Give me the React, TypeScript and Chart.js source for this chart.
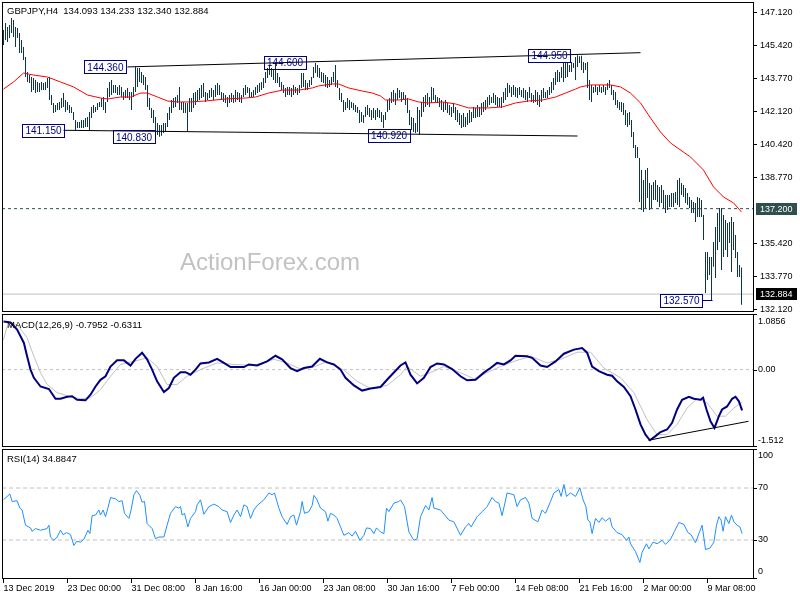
import React, { useEffect, useRef } from "react";
import { Chart, registerables } from "chart.js";

Chart.register(...registerables);

const FONT = '"Liberation Sans", Arial, sans-serif';
const NAVY = "#000080";
const BAR_COLOR = "#0d3550";

// ---------------- data ----------------
const symbol = "GBPJPY,H4";
const lastOHLC = [134.093, 134.233, 132.34, 132.884];
const macdLast = -0.7952;
const signalLast = -0.6311;
const rsiLast = 34.8847;

const timeLabels = ["13 Dec 2019", "23 Dec 00:00", "31 Dec 08:00", "8 Jan 16:00", "16 Jan 00:00", "23 Jan 08:00", "30 Jan 16:00", "7 Feb 00:00", "14 Feb 08:00", "21 Feb 16:00", "2 Mar 00:00", "9 Mar 08:00"];
const timeLabelBars = [0, 32, 64, 96, 128, 160, 192, 224, 256, 288, 320, 352];

const priceTicks = [147.12, 145.42, 143.77, 142.12, 140.42, 138.77, 135.42, 133.77, 132.12];
const macdTicks = [1.0856, 0, -1.512];
const rsiTicks = [100, 70, 30, 0];
const rsiLevels = [70, 30];

const supportLevel = 137.2;

const barHighs = [
  146.22, 146.58, 146.38, 146.48, 146.83, 146.73, 146.38, 146.33, 146.07, 145.72,
  145.37, 144.86, 144.10, 143.95, 143.85, 143.80, 143.70, 143.60, 143.55, 143.60,
  143.55, 143.60, 143.80, 143.85, 142.94, 142.54, 142.44, 142.54, 142.59, 142.79,
  143.04, 142.69, 142.59, 142.44, 142.34, 142.08, 141.68, 141.58, 141.58, 141.68,
  141.68, 141.78, 141.83, 142.08, 142.34, 142.44, 142.34, 142.54, 142.59, 142.79,
  142.84, 142.59, 143.30, 143.60, 143.70, 143.45, 143.45, 143.35, 143.45, 143.35,
  143.09, 143.19, 143.30, 143.09, 143.09, 143.35, 144.36, 144.31, 144.31, 144.10,
  143.95, 143.85, 143.45, 142.79, 142.29, 142.18, 141.83, 141.53, 141.43, 141.43,
  141.53, 141.53, 142.03, 142.34, 142.69, 142.79, 142.84, 142.94, 143.35, 142.59,
  142.59, 142.54, 142.54, 142.79, 142.79, 143.04, 143.09, 143.19, 143.30, 143.45,
  143.55, 143.09, 143.04, 143.19, 143.30, 143.19, 143.45, 143.55, 143.45, 143.09,
  143.04, 142.94, 142.84, 142.94, 143.04, 142.94, 143.19, 143.09, 143.04, 142.94,
  143.30, 143.45, 143.35, 143.30, 143.09, 143.19, 143.35, 143.45, 143.55, 143.60,
  143.80, 144.10, 144.31, 144.46, 144.31, 144.20, 144.60, 144.05, 143.85, 143.60,
  143.45, 143.30, 143.35, 143.35, 143.30, 143.45, 143.35, 143.30, 143.45, 144.05,
  144.05, 143.70, 143.55, 143.70, 143.85, 144.36, 144.56, 144.46, 144.31, 144.10,
  144.05, 143.95, 143.85, 143.70, 143.85, 144.10, 144.46, 143.70, 143.30, 143.04,
  142.69, 142.59, 142.79, 142.69, 142.59, 142.54, 142.44, 142.34, 142.18, 142.08,
  141.93, 142.34, 142.44, 142.29, 142.18, 142.29, 142.18, 142.29, 142.18, 142.08,
  141.93, 142.08, 142.69, 142.79, 143.09, 143.19, 143.04, 143.30, 143.19, 143.09,
  143.09, 142.94, 142.79, 142.18, 141.83, 141.78, 141.53, 142.34, 142.18, 142.59,
  142.84, 142.94, 143.04, 142.84, 143.35, 143.30, 142.94, 142.84, 142.79, 142.69,
  142.59, 142.69, 142.54, 142.44, 142.34, 142.54, 142.34, 142.18, 142.03, 141.93,
  142.03, 141.83, 142.03, 142.18, 142.08, 142.34, 142.29, 142.44, 142.34, 142.54,
  142.59, 142.69, 142.84, 142.94, 142.84, 143.04, 142.94, 142.84, 142.79, 142.84,
  143.09, 143.30, 143.55, 143.45, 143.35, 143.45, 143.35, 143.30, 143.35, 143.19,
  143.30, 143.19, 143.09, 143.35, 143.04, 142.94, 143.19, 143.09, 142.94, 143.19,
  143.30, 143.09, 143.19, 143.35, 143.60, 143.80, 144.10, 144.20, 144.10, 144.36,
  144.61, 144.61, 144.56, 144.46, 144.61, 144.56, 144.86, 144.95, 144.90, 144.92,
  144.61, 144.56, 144.61, 143.70, 143.45, 143.35, 143.45, 143.35, 143.45, 143.35,
  143.45, 143.35, 143.55, 143.70, 143.45, 143.19, 143.09, 142.69, 142.59, 142.59,
  142.54, 142.18, 142.03, 142.08, 141.68, 141.07, 140.42, 140.32, 139.76, 139.15,
  138.65, 139.15, 139.26, 138.50, 138.40, 138.55, 138.65, 138.40, 138.30, 138.40,
  138.14, 137.89, 137.89, 137.89, 137.99, 137.99, 138.04, 138.65, 138.75, 138.50,
  138.40, 138.25, 137.99, 137.79, 137.64, 137.54, 137.49, 137.79, 137.74, 137.64,
  136.88, 135.01, 135.01, 134.76, 134.76, 135.52, 136.27, 136.98, 137.23, 137.23,
  136.88, 136.63, 136.48, 136.53, 136.78, 136.53, 135.87, 135.01, 134.36, 134.233,
];

const barLows = [
  145.47, 145.72, 145.62, 145.82, 146.07, 145.87, 145.37, 145.82, 145.06, 145.06,
  144.71, 143.85, 143.60, 143.55, 143.09, 143.19, 143.04, 143.09, 143.09, 143.19,
  143.19, 143.19, 143.30, 142.69, 142.44, 142.03, 142.08, 142.18, 142.18, 142.29,
  142.34, 142.08, 142.18, 142.03, 142.03, 141.68, 141.17, 141.28, 141.28, 141.28,
  141.28, 141.33, 141.33, 141.15, 141.78, 142.03, 142.08, 142.18, 142.34, 142.34,
  142.18, 142.03, 142.59, 142.84, 142.94, 143.04, 143.04, 142.94, 142.94, 142.84,
  142.69, 142.79, 142.79, 142.69, 142.18, 142.84, 143.09, 143.35, 143.60, 143.55,
  143.45, 143.19, 142.34, 142.18, 141.78, 141.53, 141.17, 140.92, 140.83, 140.88,
  141.02, 141.07, 141.33, 141.68, 142.03, 142.29, 142.34, 142.54, 142.18, 142.18,
  142.03, 142.03, 141.07, 142.08, 142.08, 142.29, 142.44, 142.59, 142.69, 142.79,
  142.84, 142.59, 142.69, 142.79, 142.84, 142.69, 142.84, 142.94, 142.94, 142.69,
  142.59, 142.54, 142.34, 142.54, 142.59, 142.54, 142.59, 142.69, 142.59, 142.54,
  142.84, 142.94, 143.04, 142.84, 142.79, 142.84, 142.94, 143.04, 143.09, 143.19,
  143.30, 143.55, 143.80, 143.95, 143.85, 143.70, 143.55, 143.55, 143.35, 143.19,
  143.04, 142.84, 142.94, 142.94, 142.84, 142.94, 143.04, 142.94, 143.04, 143.30,
  143.35, 143.19, 143.19, 143.35, 143.45, 143.80, 144.05, 143.85, 143.80, 143.60,
  143.55, 143.35, 143.30, 143.35, 143.45, 143.60, 143.35, 143.30, 142.69, 142.59,
  142.08, 142.18, 142.29, 142.18, 142.29, 142.18, 142.08, 142.03, 141.53, 141.58,
  141.53, 141.83, 141.93, 141.83, 141.68, 141.78, 141.68, 141.83, 141.78, 141.58,
  141.28, 141.68, 142.08, 142.18, 142.54, 142.59, 142.44, 142.69, 142.79, 142.59,
  142.69, 142.44, 142.03, 141.43, 141.17, 141.07, 141.02, 141.07, 140.92, 141.83,
  142.08, 142.34, 142.44, 142.34, 142.54, 142.69, 142.59, 142.54, 142.34, 142.18,
  142.08, 142.18, 142.03, 141.93, 141.83, 142.03, 141.68, 141.58, 141.43, 141.28,
  141.33, 141.33, 141.43, 141.53, 141.58, 141.78, 141.78, 141.83, 141.83, 141.93,
  142.08, 142.18, 142.34, 142.44, 142.54, 142.54, 142.44, 142.34, 142.34, 142.29,
  142.54, 142.69, 142.84, 143.04, 142.84, 142.94, 142.84, 142.79, 142.94, 142.84,
  142.79, 142.69, 142.59, 142.79, 142.59, 142.54, 142.59, 142.44, 142.34, 142.59,
  142.79, 142.79, 142.79, 142.94, 143.04, 143.19, 143.45, 143.60, 143.60, 143.80,
  143.60, 143.80, 143.85, 144.10, 144.10, 144.31, 143.70, 144.36, 144.56, 144.20,
  144.05, 144.20, 143.30, 142.69, 142.59, 143.04, 143.09, 142.94, 143.09, 143.04,
  143.09, 142.94, 143.19, 143.30, 142.94, 142.69, 142.44, 142.29, 142.18, 142.08,
  141.93, 141.43, 141.33, 141.43, 140.82, 140.27, 139.76, 139.76, 137.54, 137.13,
  137.03, 137.23, 137.74, 137.13, 137.23, 137.64, 137.64, 137.54, 137.29, 137.49,
  137.23, 136.98, 137.13, 137.29, 137.29, 137.29, 137.49, 137.39, 137.29, 137.89,
  137.79, 137.49, 137.39, 137.23, 136.98, 136.98, 136.53, 136.78, 136.78, 136.78,
  135.62, 132.94, 133.60, 133.85, 132.57, 134.26, 133.70, 135.11, 135.52, 134.10,
  134.76, 135.11, 134.76, 135.47, 134.00, 135.11, 134.71, 133.75, 133.75, 132.34,
];

// moving average [bar, value]
const maTrace = [
  [0, 143.24], [5, 143.6], [10, 144.05], [15, 143.95], [22, 143.85], [28.5, 143.6], [35, 143.35], [42, 142.94],
  [48.5, 142.79], [52, 142.74], [58.5, 142.84], [63.5, 142.84], [68.5, 143.04], [72, 143.04], [77, 142.84],
  [82, 142.64], [87, 142.59], [93.5, 142.59], [101, 142.64], [111, 142.74], [121, 142.79], [126, 142.84],
  [132.5, 143.04], [139.5, 143.19], [147.5, 143.19], [154.5, 143.3], [157.5, 143.4], [164.5, 143.5], [167.5, 143.5],
  [172.5, 143.3], [179.5, 143.14], [184.5, 143.04], [188.5, 142.89], [191, 142.69], [197.5, 142.69], [202.5, 142.74],
  [207.5, 142.59], [212.5, 142.54], [219.5, 142.59], [226, 142.49], [232.5, 142.29], [237.5, 142.29], [242.5, 142.29],
  [249.5, 142.34], [256, 142.54], [262.5, 142.64], [269.5, 142.69], [276, 142.84], [281, 143.04], [286, 143.24],
  [288.5, 143.35], [293.5, 143.45], [303.5, 143.45], [308.5, 143.35], [313.5, 143.04], [318.5, 142.54], [323.5, 141.78],
  [328.5, 141.07], [333.5, 140.52], [337, 140.27], [343.5, 139.81], [350, 139.15], [355, 138.3], [360, 137.79],
  [365, 137.49], [369, 137.03],
];

const upperTrendBars = [62, 318.5];
const upperTrendValues = [144.36, 145.08];
const lowerTrendBars = [30, 287];
const lowerTrendValues = [141.16, 140.87];

const markValues = [144.36, 141.15, 140.83, 144.6, 140.92, 144.95, 132.57];
const markBars = [50.7, 19.75, 65, 140.5, 192.5, 272.75, 338.75];
const lowMarkBar = 354;

const macdTrace = [
  [0, 0.94], [3.5, 0.92], [6.8, 0.78], [10.2, 0.52], [11.8, 0.26], [13.5, 0], [15.2, -0.16], [18.5, -0.33],
  [22.7, -0.38], [26, -0.57], [28.5, -0.57], [31.8, -0.53], [34.3, -0.52], [36.8, -0.59], [41, -0.6], [43.5, -0.49],
  [46, -0.33], [48.5, -0.2], [51, -0.13], [53.5, 0.06], [56.8, 0.18], [60.2, 0.18], [63.5, 0.08], [66, 0.21],
  [69.3, 0.33], [71.8, 0.2], [74.3, 0], [76.8, -0.23], [80.2, -0.44], [82.7, -0.36], [85.2, -0.16], [88.5, -0.05],
  [91, -0.05], [93.5, -0.1], [96, 0], [98.5, 0.12], [102.7, 0.14], [106.8, 0.21], [110.2, 0.13], [113.5, 0.05],
  [120.2, 0.05], [122.7, 0.1], [126.8, 0.08], [131.8, 0.16], [136, 0.27], [139.3, 0.2], [143.5, 0.03], [146.8, -0.03],
  [150.2, 0.03], [154.3, 0.06], [158.2, 0.21], [161.8, 0.14], [165.2, 0.1], [168.5, 0], [171, -0.16], [175.2, -0.31],
  [179.3, -0.41], [183.5, -0.37], [188.5, -0.34], [192.7, -0.16], [198.5, 0.08], [201, 0.14], [203.5, -0.1],
  [206.8, -0.27], [210.2, -0.16], [213.5, 0.05], [216.8, 0.12], [220.2, 0.1], [224.3, 0.01], [228.5, -0.13],
  [231.8, -0.21], [236, -0.2], [240.2, -0.06], [243.5, 0.03], [246.8, 0.13], [250.2, 0.1], [253.5, 0.18], [256, 0.27],
  [261.8, 0.26], [264.3, 0.23], [268.5, 0.08], [271.8, 0.05], [276, 0.16], [280.2, 0.31], [285.2, 0.39], [289.3, 0.42],
  [291.8, 0.33], [294.3, 0.06], [297.7, -0.03], [301.8, -0.1], [304.3, -0.12], [306.8, -0.23], [310.2, -0.34],
  [313.5, -0.52], [316, -0.78], [318.5, -1.07], [321, -1.27], [323.2, -1.38], [326, -1.3], [328.5, -1.22],
  [331.8, -1.17], [334.3, -1.04], [336.8, -0.78], [339.3, -0.59], [342.7, -0.53], [345.2, -0.57], [348.5, -0.59],
  [349.8, -0.55], [351.5, -0.78], [353.5, -1.01], [355.5, -1.14], [357.7, -0.91], [359.3, -0.78], [361.8, -0.72],
  [364.3, -0.57], [366, -0.53], [367.7, -0.62], [369.3, -0.7952],
];

const signalTrace = [
  [0, 0.58], [1.8, 0.84], [6.8, 0.88], [11.8, 0.62], [15.2, 0.26], [18.5, -0.06], [21.8, -0.29], [26.8, -0.45],
  [33.5, -0.53], [38.5, -0.57], [43.5, -0.55], [48.5, -0.39], [53.5, -0.13], [58.5, 0.1], [65.2, 0.16], [71.8, 0.23],
  [76.8, 0.06], [81.8, -0.29], [86.8, -0.29], [91.8, -0.13], [98.5, 0], [106.8, 0.13], [115.2, 0.1], [125.2, 0.08],
  [135.2, 0.2], [141.8, 0.13], [148.5, 0.01], [155.2, 0.05], [161.8, 0.16], [170.2, -0.01], [176.8, -0.23],
  [183.5, -0.37], [191.8, -0.31], [198.5, -0.1], [201.8, 0.06], [208.5, -0.13], [213.5, -0.06], [220.2, 0.06],
  [228.5, -0.06], [235.2, -0.18], [241.8, -0.06], [248.5, 0.06], [255.2, 0.16], [263.5, 0.26], [271.8, 0.13],
  [278.5, 0.2], [286.8, 0.34], [293.5, 0.34], [300.2, 0.03], [308.5, -0.16], [315.2, -0.45], [321.8, -0.98],
  [326.8, -1.27], [331.8, -1.27], [336.8, -1.07], [341.8, -0.75], [346.8, -0.57], [351.8, -0.65], [356.8, -0.91],
  [361, -0.91], [365.2, -0.75], [369.3, -0.6311],
];

const macdTrendBars = [322.5, 372.5];
const macdTrendValues = [-1.38, -1.01];

const rsiTrace = [
  [0, 61], [3.2, 65.4], [4.3, 59.6], [6.8, 60.2], [8.2, 54.5], [9.3, 53.1], [11, 41.4], [13.5, 39.3], [14.3, 36.7],
  [16, 38.8], [18.5, 37.5], [21.8, 38.8], [22.7, 41.4], [23.5, 32.3], [25.2, 29.7], [26.8, 32.3], [28.5, 37.5],
  [29.8, 34.1], [31.5, 35.7], [33.5, 34.1], [35.2, 25.8], [36.5, 28.9], [38.5, 28.4], [40.2, 30.5], [42.2, 37.5],
  [43.2, 34.9], [44.3, 48.7], [46, 49.2], [47.7, 53.1], [48.5, 49.2], [49.8, 53.1], [51, 47.9], [52.2, 54.5],
  [53.5, 62.7], [56, 61.7], [57.7, 59.6], [59.3, 60.2], [60.5, 50.5], [62.7, 46.6], [63.8, 53.1], [65.2, 64.8],
  [66.5, 68], [68.2, 64.3], [69.3, 59.1], [70.5, 59.6], [71.8, 42.7], [74.3, 38.8], [76, 31], [77.7, 32.3],
  [80.2, 32.3], [81.8, 41.4], [83.5, 50.5], [86, 55.7], [87.7, 54.5], [88.5, 55.7], [89.3, 49.2], [90.5, 50.5],
  [92.2, 40.1], [93.5, 46.6], [96, 51.8], [96.8, 57], [98.5, 60.9], [100.2, 49.8], [102.7, 55.7], [105.2, 57.6],
  [107.7, 55.7], [109.3, 53.1], [111.8, 51.8], [113.5, 43.5], [115.2, 49.2], [116.8, 53.1], [118.5, 47.9],
  [120.2, 57], [121.8, 55.7], [123.5, 46.6], [125.2, 53.1], [126.8, 56.5], [130.2, 60.9], [132.7, 66.2],
  [134.3, 64.8], [135.5, 66.2], [137.7, 54.5], [139.3, 47.9], [141.8, 42], [143.5, 47.9], [145.2, 49.2],
  [146.5, 41.4], [148.5, 51.8], [149.3, 59.6], [150.5, 50.5], [152.7, 51.8], [154.3, 56.5], [155.2, 64.3],
  [156.5, 61.7], [158.5, 54.5], [161, 51.8], [162.2, 44.5], [163.5, 50.5], [165.2, 49.2], [166.8, 46.6],
  [168.5, 40.1], [170.2, 33.6], [172.7, 35.7], [174.3, 33], [176, 36.7], [178.2, 29.7], [180.2, 33.6],
  [181.5, 39.3], [183.5, 38.8], [185.2, 34.9], [186.5, 39.3], [188.5, 36.2], [190.2, 34.9], [191.5, 54.5],
  [192.7, 51.8], [195.2, 58.4], [197.7, 59.6], [198.5, 60.9], [200.5, 55.7], [202.7, 36.2], [205.2, 29.7],
  [206.8, 31], [208.5, 47.9], [211, 56.5], [212.7, 53.1], [214.3, 62.7], [215.2, 54.5], [218.5, 53.1],
  [222.7, 45.3], [225.2, 44], [228.5, 33.6], [231, 40.1], [232.7, 42.7], [233.8, 40.1], [236.8, 47.9],
  [239.3, 51.8], [241.8, 55.7], [244.3, 62.7], [246, 59.6], [247.7, 58.4], [249.3, 48.7], [251.8, 66.2],
  [255.2, 64.8], [256.8, 55.7], [258.5, 60.9], [261, 62.7], [262.7, 58.4], [264.3, 46.6], [267.2, 44],
  [269.3, 53.1], [271, 50.5], [273.5, 59.6], [275.2, 66.2], [277.7, 68.8], [278.8, 63.5], [280.2, 72.7],
  [281.5, 63.5], [283.5, 66.2], [286, 63.5], [288.2, 70.1], [289.8, 60.9], [291.2, 55.7], [292.2, 45.3],
  [293.2, 44], [294.3, 34.9], [296, 46.6], [297.7, 43.5], [299.3, 47.1], [301, 44.5], [303.2, 47.1], [304.3, 40.1],
  [306.8, 35.7], [309.3, 34.1], [311.5, 29.7], [312.7, 32.3], [313.5, 27.1], [316, 21.1], [318.2, 12.7],
  [319.3, 20.5], [321.5, 27.1], [322.7, 23.2], [324.8, 28.4], [326.8, 27.1], [329.3, 29.7], [331, 26.6],
  [333.5, 30.5], [335.5, 36.7], [337.7, 43.5], [340.2, 42], [342.2, 35.7], [343.8, 34.1], [346, 27.9],
  [347.7, 34.9], [349.3, 41.4], [351, 22.7], [353.2, 23.7], [355.2, 28.4], [356.5, 41.4], [357.7, 47.9],
  [358.8, 45.3], [359.8, 36.7], [361, 47.9], [362.7, 42.7], [364, 49.2], [365.2, 44], [366.8, 41.4],
  [368.2, 40.1], [369.3, 34.88],
];

// ---------------- layout constants ----------------
const X_MIN = -0.75;
const X_MAX = 375.25;
const PRICE_MIN = 131.98;
const PRICE_MAX = 147.64;
const MACD_MIN = -1.512;
const MACD_MAX = 1.0856;
const AXIS_W = 46;

Chart.defaults.font.family = FONT;

const pts = (xs: number[], ys: number[]) => xs.map((x, i) => ({ x, y: ys[i] }));
const pairPts = (arr: number[][]) => arr.map(([x, y]) => ({ x, y }));
const hline = (v: number) => [{ x: X_MIN, y: v }, { x: X_MAX, y: v }];

const lineDs = (data: any[], color: string, width: number, extra: any = {}) => ({
  type: "line",
  data,
  borderColor: color,
  backgroundColor: color,
  borderWidth: width,
  pointRadius: 0,
  pointHoverRadius: 0,
  tension: 0,
  fill: false,
  ...extra,
});

const xAxis = (show: boolean) => ({
  type: "linear",
  min: X_MIN,
  max: X_MAX,
  offset: false,
  display: show,
  afterBuildTicks: (s: any) => {
    s.ticks = timeLabelBars.map((v) => ({ value: v }));
  },
  afterFit: (s: any) => {
    s.paddingLeft = 0;
    s.paddingRight = 0;
    s.paddingTop = 0;
    s.paddingBottom = 0;
    s.height = show ? 21 : 0;
  },
  grid: { display: true, offset: false, drawOnChartArea: false, drawTicks: true, tickLength: 4, color: "#000", lineWidth: 1 },
  border: { display: false },
  ticks: {
    autoSkip: false,
    maxRotation: 0,
    minRotation: 0,
    align: "start",
    padding: 0,
    color: "#000",
    font: { family: FONT, size: 9 },
    callback: (_v: any, i: number) => timeLabels[i],
  },
});

const fixY = (s: any) => {
  s.width = AXIS_W;
  s.paddingTop = 0;
  s.paddingBottom = 0;
  s.paddingLeft = 0;
  s.paddingRight = 0;
};

const blankY = (min: number, max: number) => ({
  position: "right",
  min,
  max,
  afterFit: fixY,
  grid: { display: false },
  border: { display: false },
  ticks: { display: false },
});

const baseOptions = (padding: any, xShow: boolean, y: any) => ({
  responsive: false,
  maintainAspectRatio: false,
  animation: false,
  devicePixelRatio: 1,
  events: [],
  layout: { padding, autoPadding: false },
  plugins: { legend: { display: false }, tooltip: { enabled: false }, title: { display: false } },
  scales: { x: xAxis(xShow), y },
});

const framePlugin = {
  id: "frame",
  afterDraw(chart: any) {
    const { ctx, chartArea: a } = chart;
    ctx.save();
    ctx.strokeStyle = "#000";
    ctx.lineWidth = 1;
    ctx.strokeRect(a.left + 0.5, a.top + 0.5, a.right - a.left - 1, a.bottom - a.top - 1);
    ctx.restore();
  },
};

const caption = (text: string, baseline: number) => ({
  id: "caption",
  afterDraw(chart: any) {
    const ctx = chart.ctx;
    ctx.save();
    ctx.font = `9.5px ${FONT}`;
    ctx.fillStyle = "#000";
    ctx.textAlign = "left";
    ctx.textBaseline = "alphabetic";
    ctx.fillText(text, 7, baseline);
    ctx.restore();
  },
});

const sideLabels = (ticks: number[], fmt: (v: number) => string, insetTop: number, insetBottom: number) => ({
  id: "sideLabels",
  afterDraw(chart: any) {
    const { ctx, chartArea: a } = chart;
    const ys = chart.scales.y;
    ctx.save();
    ctx.font = `9px ${FONT}`;
    ctx.fillStyle = "#000";
    ctx.strokeStyle = "#000";
    ctx.lineWidth = 1;
    ctx.textAlign = "left";
    ctx.textBaseline = "middle";
    ticks.forEach((v) => {
      const py = ys.getPixelForValue(v);
      const ly = Math.min(Math.max(py, a.top + insetTop), a.bottom - insetBottom);
      const ty = Math.round(Math.min(Math.max(py, a.top), a.bottom - 1)) + 0.5;
      ctx.beginPath();
      ctx.moveTo(a.right, ty);
      ctx.lineTo(a.right + 3, ty);
      ctx.stroke();
      ctx.fillText(fmt(v), a.right + 4, ly);
    });
    ctx.restore();
  },
});

const mainOverlay = {
  id: "mainOverlay",
  beforeDatasetsDraw(chart: any) {
    const ctx = chart.ctx;
    ctx.save();
    ctx.font = `24px ${FONT}`;
    ctx.fillStyle = "#c2c2c2";
    ctx.textAlign = "left";
    ctx.textBaseline = "alphabetic";
    ctx.fillText("ActionForex.com", 180, 269.5);
    ctx.restore();
  },
  afterDatasetsDraw(chart: any) {
    const { ctx } = chart;
    const xs = chart.scales.x;
    const ys = chart.scales.y;
    ctx.save();
    ctx.lineWidth = 1;
    ctx.strokeStyle = NAVY;
    ctx.fillStyle = NAVY;
    ctx.font = `10px ${FONT}`;
    ctx.textAlign = "center";
    ctx.textBaseline = "middle";
    const w = 42;
    const h = 13;
    markValues.forEach((v, i) => {
      const cx = xs.getPixelForValue(markBars[i]);
      const cy = ys.getPixelForValue(v);
      const l = Math.round(cx - w / 2) + 0.5;
      const t = Math.round(cy - h / 2) + 0.5;
      ctx.strokeRect(l, t, w, h);
      ctx.fillText(v.toFixed(3), cx + 0.5, cy + 1);
      if (i === markValues.length - 1) {
        const bx = Math.round(xs.getPixelForValue(lowMarkBar)) + 0.5;
        const yy = Math.round(cy) + 0.5;
        ctx.beginPath();
        ctx.moveTo(l + w, yy);
        ctx.lineTo(bx, yy);
        ctx.stroke();
      }
    });
    ctx.restore();
  },
  afterDraw(chart: any) {
    const { ctx, chartArea: a } = chart;
    const ys = chart.scales.y;
    ctx.save();
    ctx.font = `9.5px ${FONT}`;
    ctx.fillStyle = "#000";
    ctx.textAlign = "left";
    ctx.textBaseline = "alphabetic";
    ctx.fillText(`${symbol}  ${lastOHLC.map((v) => v.toFixed(3)).join(" ")}`, 7, 14);

    ctx.font = `9px ${FONT}`;
    ctx.textBaseline = "middle";
    const tag = (v: number, bg: string) => {
      const py = Math.round(ys.getPixelForValue(v));
      ctx.fillStyle = bg;
      ctx.fillRect(a.right + 2, py - 6, 41, 12);
      ctx.fillStyle = "#fff";
      ctx.fillText(v.toFixed(3), a.right + 6, py + 0.5);
    };
    tag(supportLevel, "#2f4f4f");
    tag(lastOHLC[3], "#000");
    ctx.restore();
  },
};

const mainY = {
  position: "right",
  min: PRICE_MIN,
  max: PRICE_MAX,
  afterBuildTicks: (s: any) => {
    s.ticks = priceTicks.map((v) => ({ value: v }));
  },
  afterFit: fixY,
  grid: { display: true, drawOnChartArea: false, drawTicks: true, tickLength: 3, color: "#000" },
  border: { display: false },
  ticks: {
    padding: 3,
    color: "#000",
    font: { family: FONT, size: 9 },
    callback: (v: any) => Number(v).toFixed(3),
  },
};

export default function App() {
  const mainRef = useRef<HTMLCanvasElement>(null);
  const macdRef = useRef<HTMLCanvasElement>(null);
  const rsiRef = useRef<HTMLCanvasElement>(null);

  useEffect(() => {
    const charts: any[] = [];

    charts.push(
      new Chart(mainRef.current as any, {
        type: "bar",
        data: {
          datasets: [
            lineDs(hline(supportLevel), "#2f4f4f", 1, { borderDash: [3, 3], order: 0 }),
            lineDs(pts(upperTrendBars, upperTrendValues), "#000", 1, { order: 0 }),
            lineDs(pts(lowerTrendBars, lowerTrendValues), "#000", 1, { order: 0 }),
            lineDs(pairPts(maTrace), "#ff0000", 1, { order: 1 }),
            {
              type: "bar",
              data: barHighs.map((hi, i) => ({ x: i, y: [barLows[i], hi] })),
              backgroundColor: BAR_COLOR,
              borderWidth: 0,
              barThickness: 1,
              inflateAmount: 0,
              order: 5,
            },
            lineDs(hline(lastOHLC[3]), "#c0c0c0", 1, { order: 6 }),
          ] as any,
        },
        options: baseOptions({ left: 2, top: 2, right: 0, bottom: 1 }, false, mainY) as any,
        plugins: [mainOverlay, framePlugin],
      })
    );

    charts.push(
      new Chart(macdRef.current as any, {
        type: "line",
        data: {
          datasets: [
            lineDs(pts(macdTrendBars, macdTrendValues), "#000", 1, { order: 0 }),
            lineDs(pairPts(macdTrace), NAVY, 2, { order: 1 }),
            lineDs(pairPts(signalTrace), "#c0c0c0", 1, { order: 2 }),
            lineDs(hline(0), "#c0c0c0", 1, { borderDash: [3, 3], order: 3 }),
          ] as any,
        },
        options: baseOptions({ left: 2, top: 1, right: 0, bottom: 1 }, false, blankY(MACD_MIN, MACD_MAX)) as any,
        plugins: [
          caption(`MACD(12,26,9) ${macdLast.toFixed(4)} ${signalLast.toFixed(4)}`, 14.5),
          sideLabels(macdTicks, (v) => (v === 0 ? "0.00" : String(v)), 8, 6),
          framePlugin,
        ],
      })
    );

    charts.push(
      new Chart(rsiRef.current as any, {
        type: "line",
        data: {
          datasets: [
            lineDs(pairPts(rsiTrace), "#1e90ff", 1, { order: 0 }),
            ...rsiLevels.map((lv) => lineDs(hline(lv), "#c0c0c0", 1, { borderDash: [4, 3], order: 2 })),
          ] as any,
        },
        options: baseOptions({ left: 2, top: 1, right: 0, bottom: 0 }, true, blankY(0, 100)) as any,
        plugins: [
          caption(`RSI(14) ${rsiLast.toFixed(4)}`, 14),
          sideLabels(rsiTicks, (v) => String(v), 7, 7),
          framePlugin,
        ],
      })
    );

    return () => charts.forEach((c) => c.destroy());
  }, []);

  const cs = (top: number, h: number): any => ({ position: "absolute", left: 0, top, width: 800, height: h });

  return (
    <div style={{ position: "fixed", left: 0, top: 0, width: 800, height: 600, background: "#fff" }}>
      <canvas ref={mainRef} width={800} height={313} style={cs(0, 313)} />
      <canvas ref={macdRef} width={800} height={135} style={cs(313, 135)} />
      <canvas ref={rsiRef} width={800} height={152} style={cs(448, 152)} />
    </div>
  );
}
